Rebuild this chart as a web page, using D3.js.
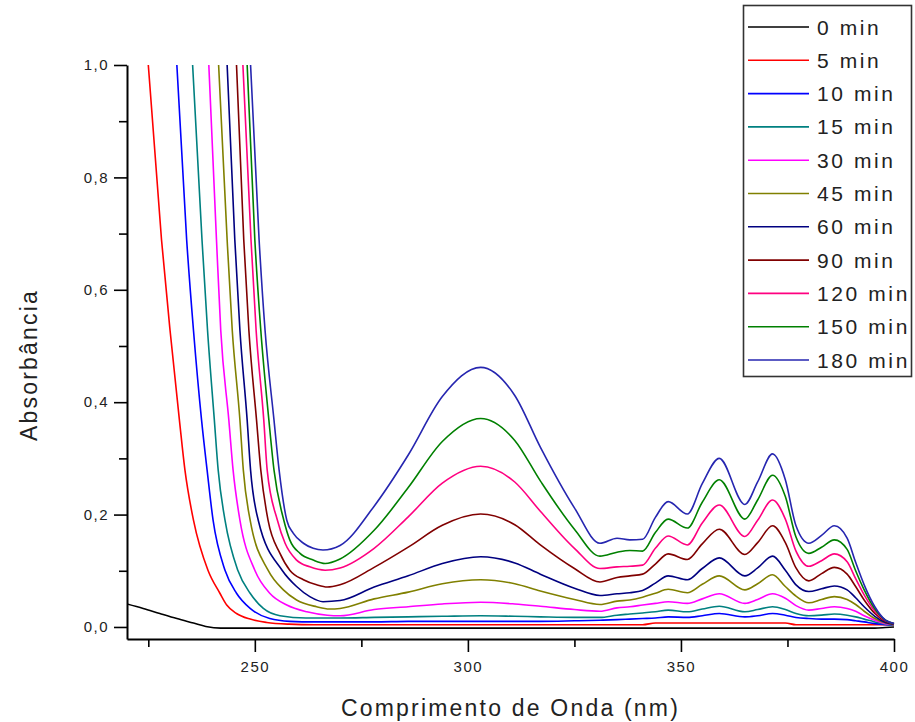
<!DOCTYPE html>
<html><head><meta charset="utf-8">
<script src="https://cdn.jsdelivr.net/npm/d3@7"></script>
<style>body{margin:0;background:#fff} svg{display:block}</style>
</head><body>
<svg id="chart" width="915" height="722"></svg>
<script>
// ---------- data ----------
const seriesLabels = ["0 min","5 min","10 min","15 min","30 min","45 min","60 min","90 min","120 min","150 min","180 min"];
const seriesColors = ["#000000","#FF0000","#0000FF","#008080","#FF00FF","#808000","#000080","#800000","#FF0080","#008000","#2626B0"];
const xTickValues = [250, 300, 350, 400];
const xMinorTicks = [225, 275, 325, 375];
const yTickValues = [0, 0.2, 0.4, 0.6, 0.8, 1.0];
const yMinorTicks = [0.1, 0.3, 0.5, 0.7, 0.9];

// absorption edge (wavelength nm, absorbance) for each series
const edge0   = [[220,0.041],[223.8,0.033],[227.7,0.024],[231.7,0.015],[235.6,0.007],[238.5,0.001],[242,-0.002],[260,-0.002]];
const edge5   = [[225.0,1.0],[228.1,0.689],[230.1,0.528],[232.3,0.368],[233.6,0.279],[235.6,0.190],[239.0,0.101],[241.8,0.060],[243.4,0.039],[245.7,0.024],[248.9,0.014],[252.8,0.008],[258,0.005],[264,0.004]];
const edge10  = [[231.7,1.0],[234.0,0.689],[235.6,0.528],[237.5,0.368],[238.8,0.279],[240.2,0.190],[243.0,0.101],[245.7,0.060],[248.9,0.033],[253.5,0.015],[258.2,0.010],[264,0.009]];
const edge15  = [[235.4,1.0],[237.6,0.689],[238.9,0.528],[240.5,0.368],[241.4,0.279],[243.0,0.190],[246.0,0.101],[248.9,0.060],[252.0,0.033],[255.9,0.020],[262,0.016]];
const edge30  = [[239.2,1.0],[241.0,0.689],[242.0,0.528],[243.9,0.368],[244.9,0.279],[246.5,0.190],[250.0,0.101],[253.5,0.060],[257.5,0.039],[262.2,0.027],[267,0.021]];
const edge45  = [[241.5,1.0],[243.5,0.689],[244.7,0.528],[246.5,0.368],[247.3,0.279],[248.9,0.190],[253.1,0.101],[256.7,0.066],[259.8,0.048],[264.5,0.036],[267.5,0.032]];
const edge60  = [[243.5,1.0],[245.3,0.689],[246.5,0.528],[248.2,0.368],[249.0,0.279],[250.8,0.190],[256.4,0.101],[259.8,0.072],[262.9,0.054],[266.0,0.045]];
const edge90  = [[245.7,1.0],[247.4,0.689],[248.6,0.528],[250.4,0.368],[251.4,0.279],[253.1,0.190],[255.9,0.131],[258.2,0.101],[261.4,0.084],[264.5,0.075],[267.0,0.071]];
const edge120 = [[247.2,1.0],[249.1,0.689],[250.3,0.528],[252.1,0.368],[252.9,0.279],[255.3,0.190],[257.1,0.149],[259.8,0.119],[262.9,0.107],[266.5,0.101]];
const edge150 = [[248.2,1.0],[250.0,0.689],[251.4,0.528],[253.3,0.368],[254.5,0.279],[256.8,0.190],[258.2,0.155],[260.6,0.131],[263.7,0.119],[266.5,0.113]];
const edge180 = [[249.0,1.0],[251.0,0.689],[252.4,0.528],[254.5,0.368],[255.7,0.279],[257.5,0.190],[259.0,0.167],[261.4,0.149],[263.7,0.140],[266.0,0.137]];

// band region, shared wavelengths
const bandNm = [270,278,286,294,303,311,317,325,331,335,338,341,344,347,351.5,355,359,365,368,371.5,374.5,377,380,383,386,389,391,393,395.5,398,400];
const band0   = [-0.002,-0.002,-0.002,-0.002,-0.002,-0.002,-0.002,-0.002,-0.002,-0.002,-0.002,-0.002,-0.002,-0.002,-0.002,-0.002,-0.002,-0.002,-0.002,-0.002,-0.002,-0.002,-0.002,-0.002,-0.002,-0.002,-0.002,-0.002,-0.002,-0.001,0.0];
const band5   = [0.004,0.004,0.004,0.004,0.004,0.004,0.004,0.004,0.004,0.004,0.004,0.004,0.007,0.007,0.007,0.007,0.007,0.007,0.007,0.007,0.007,0.004,0.004,0.004,0.004,0.004,0.004,0.004,0.004,0.004,0.004];
const band10  = [0.009,0.009,0.010,0.010,0.010,0.010,0.010,0.011,0.012,0.013,0.014,0.015,0.016,0.018,0.017,0.020,0.024,0.018,0.020,0.024,0.021,0.017,0.015,0.014,0.014,0.013,0.011,0.009,0.006,0.004,0.003];
const band15  = [0.016,0.017,0.018,0.019,0.020,0.019,0.018,0.017,0.017,0.021,0.023,0.025,0.027,0.030,0.027,0.032,0.037,0.027,0.031,0.036,0.031,0.024,0.020,0.021,0.023,0.021,0.018,0.014,0.009,0.005,0.003];
const band30  = [0.020,0.031,0.036,0.041,0.044,0.041,0.037,0.031,0.028,0.034,0.036,0.039,0.042,0.045,0.042,0.050,0.059,0.042,0.049,0.059,0.051,0.038,0.030,0.033,0.036,0.033,0.028,0.020,0.012,0.006,0.004];
const band45  = [0.033,0.050,0.062,0.077,0.084,0.077,0.064,0.049,0.040,0.046,0.048,0.053,0.060,0.067,0.061,0.076,0.091,0.066,0.077,0.093,0.072,0.055,0.043,0.049,0.054,0.049,0.040,0.028,0.015,0.007,0.004];
const band60  = [0.047,0.071,0.091,0.113,0.125,0.114,0.094,0.069,0.056,0.059,0.061,0.065,0.078,0.091,0.084,0.104,0.123,0.091,0.105,0.126,0.101,0.075,0.063,0.068,0.073,0.066,0.052,0.036,0.019,0.008,0.005];
const band90  = [0.075,0.106,0.142,0.181,0.201,0.182,0.146,0.104,0.080,0.088,0.091,0.094,0.112,0.130,0.120,0.148,0.174,0.129,0.150,0.180,0.150,0.105,0.082,0.095,0.106,0.094,0.072,0.048,0.024,0.010,0.005];
const band120 = [0.105,0.140,0.196,0.256,0.286,0.258,0.206,0.140,0.104,0.107,0.108,0.110,0.140,0.162,0.146,0.185,0.217,0.161,0.190,0.226,0.192,0.135,0.108,0.118,0.130,0.116,0.086,0.057,0.028,0.011,0.006];
const band150 = [0.121,0.172,0.248,0.330,0.371,0.332,0.260,0.174,0.126,0.133,0.136,0.135,0.168,0.192,0.176,0.222,0.262,0.192,0.226,0.270,0.232,0.160,0.131,0.142,0.155,0.138,0.100,0.066,0.032,0.012,0.006];
const band180 = [0.145,0.215,0.306,0.410,0.462,0.412,0.320,0.212,0.149,0.158,0.155,0.156,0.195,0.223,0.201,0.255,0.300,0.218,0.258,0.308,0.262,0.180,0.149,0.163,0.180,0.158,0.115,0.075,0.036,0.012,0.006];

const edges = [edge0,edge5,edge10,edge15,edge30,edge45,edge60,edge90,edge120,edge150,edge180];
const bands = [band0,band5,band10,band15,band30,band45,band60,band90,band120,band150,band180];

// ---------- layout ----------
const svg = d3.select("#chart");
const plotLeft = 127, plotRight = 894, plotTop = 65, plotBottom = 639;
const x = d3.scaleLinear().domain([220, 400]).range([plotLeft, plotRight]);
const y = d3.scaleLinear().domain([-0.0214, 1.0]).range([plotBottom, plotTop]);

svg.append("defs").append("clipPath").attr("id","plotclip")
  .append("rect").attr("x", plotLeft).attr("y", plotTop - 1).attr("width", plotRight - plotLeft + 2).attr("height", plotBottom - plotTop + 1);

const line = d3.line().x(d => x(d[0])).y(d => y(d[1])).curve(d3.curveMonotoneX);

const gLines = svg.append("g").attr("clip-path","url(#plotclip)");
seriesLabels.forEach((name, i) => {
  const pts = edges[i].concat(bandNm.map((w, j) => [w, bands[i][j]]));
  gLines.append("path").datum(pts)
    .attr("d", line).attr("fill","none")
    .attr("stroke", seriesColors[i]).attr("stroke-width", 1.6)
    .attr("stroke-linejoin","round");
});

// ---------- axes ----------
const fmt = d => d3.format(".1f")(d).replace(".", ",");
const tickFont = "'Liberation Sans', Arial, sans-serif";

const gy = svg.append("g").attr("transform", `translate(${plotLeft},0)`)
  .call(d3.axisLeft(y).tickValues(yTickValues).tickFormat(fmt).tickSize(13).tickSizeOuter(0).tickPadding(5));
const gyMinor = svg.append("g").attr("transform", `translate(${plotLeft},0)`)
  .call(d3.axisLeft(y).tickValues(yMinorTicks).tickFormat("").tickSize(8).tickSizeOuter(0));
const gx = svg.append("g").attr("transform", `translate(0,${plotBottom})`)
  .call(d3.axisBottom(x).tickValues(xTickValues).tickFormat(d3.format("d")).tickSize(13).tickSizeOuter(0).tickPadding(9));
const gxMinor = svg.append("g").attr("transform", `translate(0,${plotBottom})`)
  .call(d3.axisBottom(x).tickValues(xMinorTicks).tickFormat("").tickSize(8).tickSizeOuter(0));

[gy, gyMinor, gx, gxMinor].forEach(g => {
  g.select(".domain").attr("stroke","#000").attr("stroke-width", 2);
  g.selectAll(".tick line").attr("stroke","#000").attr("stroke-width", 1.6);
  g.selectAll("text").attr("font-family", tickFont).attr("font-size", 15)
    .attr("fill","#222").style("letter-spacing","1.5px");
});
gyMinor.select(".domain").remove();
gxMinor.select(".domain").remove();

// axis titles
svg.append("text")
  .attr("x", (plotLeft + plotRight) / 2).attr("y", 716)
  .attr("text-anchor","middle")
  .attr("font-family", tickFont).attr("font-size", 23).attr("fill","#222")
  .style("letter-spacing","2.2px")
  .text("Comprimento de Onda (nm)");
svg.append("text")
  .attr("transform", "translate(37,365) rotate(-90)")
  .attr("text-anchor","middle")
  .attr("font-family", tickFont).attr("font-size", 23).attr("fill","#222")
  .style("letter-spacing","2.2px")
  .text("Absorbância");

// ---------- legend ----------
const lg = svg.append("g");
lg.append("rect").attr("x", 743.5).attr("y", 5.5).attr("width", 168).attr("height", 371)
  .attr("fill","#fff").attr("stroke","#333").attr("stroke-width", 1.6);
seriesLabels.forEach((name, i) => {
  const yy = 27 + i * 33.3;
  lg.append("line").attr("x1", 748).attr("x2", 809).attr("y1", yy).attr("y2", yy)
    .attr("stroke", seriesColors[i]).attr("stroke-width", 1.6);
  lg.append("text").attr("x", 817).attr("y", yy).attr("dy","0.36em")
    .attr("font-family", tickFont).attr("font-size", 21).attr("fill","#222")
    .style("letter-spacing","2.6px")
    .text(name);
});
</script>
</body></html>
